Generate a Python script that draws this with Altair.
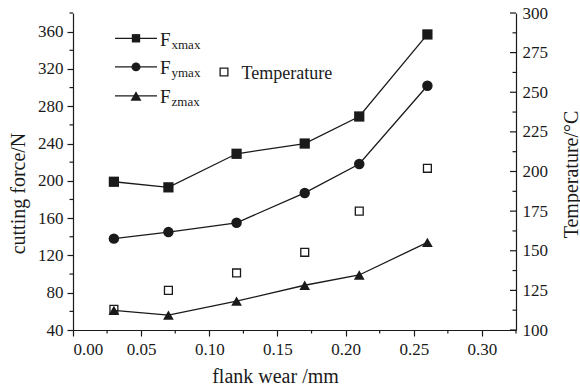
import altair as alt
import pandas as pd

# ---- data ----
wear = [0.03, 0.07, 0.12, 0.17, 0.21, 0.26]
fx = [199, 193, 229, 240, 269, 357]
fy = [138, 145, 155, 187, 218, 302]
fz = [61, 56, 71, 88, 99, 134]
temp = [113, 125, 136, 149, 175, 202]

series_names = ["Fx", "Fy", "Fz"]
series_shapes = ["square", "circle", "triangle-up"]
series_sizes = [105, 115, 165]
series_subs = ["xmax", "ymax", "zmax"]

force_ticks = [40, 80, 120, 160, 200, 240, 280, 320, 360]
force_minor = [60, 100, 140, 180, 220, 260, 300, 340, 380]
x_ticks = [0.0, 0.05, 0.10, 0.15, 0.20, 0.25, 0.30]
x_minor = [0.025, 0.075, 0.125, 0.175, 0.225, 0.275, 0.325]
temp_major = [100, 125, 150, 175, 200, 225, 250, 275, 300]
temp_minor = [112.5, 137.5, 162.5, 187.5, 212.5, 237.5, 262.5, 287.5]

W, H = 443, 317
FONT = "Liberation Serif"
INK = "#1a1a1a"

rows = []
for name, vals in zip(series_names, [fx, fy, fz]):
    for w, v in zip(wear, vals):
        rows.append({"wear": w, "force": v, "series": name})
forces = pd.DataFrame(rows)
temps = pd.DataFrame({"wear": wear, "temp": temp})

xscale = alt.Scale(domain=[0, 0.325], nice=False, zero=False)
yscale = alt.Scale(domain=[40, 380], nice=False, zero=False)
tscale = alt.Scale(domain=[100, 300], nice=False, zero=False)

x_axis = alt.Axis(values=x_ticks, format=".2f", title="flank wear /mm",
                  tickSize=6, labelPadding=5, grid=False, labelOverlap=False,
                  titleX=202, titleY=46, titleBaseline="middle", titleAlign="center")
y_axis = alt.Axis(values=force_ticks, title="cutting force/N", tickSize=6,
                  labelPadding=4, grid=False, titleAngle=-90, labelOverlap=False,
                  titleX=-55, titleY=180, titleBaseline="middle", titleAlign="center")
t_axis = alt.Axis(values=temp_major, title="Temperature/°C", ticks=False, labelPadding=6,
                  grid=False, orient="right", titleAngle=-90, labelOverlap=False,
                  titleX=55, titleY=161, titleBaseline="middle", titleAlign="center")

base = alt.Chart(forces)
lines = base.mark_line(color=INK, strokeWidth=1.3).encode(
    x=alt.X("wear:Q", scale=xscale, axis=x_axis),
    y=alt.Y("force:Q", scale=yscale, axis=y_axis),
    detail="series:N",
)
pts = base.mark_point(filled=True, color=INK, opacity=1).encode(
    x=alt.X("wear:Q", scale=xscale, axis=x_axis),
    y=alt.Y("force:Q", scale=yscale, axis=y_axis),
    shape=alt.Shape("series:N", scale=alt.Scale(domain=series_names, range=series_shapes), legend=None),
    size=alt.Size("series:N", scale=alt.Scale(domain=series_names, range=series_sizes), legend=None),
)

# minor ticks left / bottom
lminor = alt.Chart(pd.DataFrame({"v": force_minor})).mark_rule(color=INK, strokeWidth=1.2).encode(
    y=alt.Y("v:Q", scale=yscale, axis=y_axis), x=alt.value(-3.5), x2=alt.value(0))
bminor = alt.Chart(pd.DataFrame({"v": x_minor})).mark_rule(color=INK, strokeWidth=1.2).encode(
    x=alt.X("v:Q", scale=xscale, axis=x_axis), y=alt.value(H), y2=alt.value(H + 3.5))

# legend
leg_layers = []
row_y = [25.3, 53.9, 82.9]
leg_sizes = [70, 80, 120]
one = alt.Data(values=[{"a": 1}])
for ry, shp, sz, sub in zip(row_y, series_shapes, leg_sizes, series_subs):
    leg_layers.append(alt.Chart(one).mark_rule(color=INK, strokeWidth=1.3).encode(
        x=alt.value(42), x2=alt.value(84), y=alt.value(ry)))
    leg_layers.append(alt.Chart(one).mark_point(shape=shp, filled=True, color=INK, opacity=1, size=sz).encode(
        x=alt.value(63), y=alt.value(ry)))
    leg_layers.append(alt.Chart(one).mark_text(text="F", font=FONT, fontSize=19, color=INK,
                                               align="left", baseline="alphabetic").encode(
        x=alt.value(87), y=alt.value(ry + 7.4)))
    leg_layers.append(alt.Chart(one).mark_text(text=sub, font=FONT, fontSize=13, color=INK,
                                               align="left", baseline="alphabetic").encode(
        x=alt.value(98.5), y=alt.value(ry + 10.2)))
leg_layers.append(alt.Chart(one).mark_point(shape="square", filled=False, color=INK, opacity=1,
                                            size=60, strokeWidth=1.3).encode(
    x=alt.value(151), y=alt.value(59)))
leg_layers.append(alt.Chart(one).mark_text(text="Temperature", font=FONT, fontSize=18, color=INK,
                                           align="left", baseline="alphabetic").encode(
    x=alt.value(168.5), y=alt.value(65.5)))

force_group = alt.layer(lines, pts, lminor, bminor, *leg_layers)

# temperature group (right axis)
tpts = alt.Chart(temps).mark_point(shape="square", filled=False, color=INK, opacity=1,
                                   size=62, strokeWidth=1.3).encode(
    x=alt.X("wear:Q", scale=xscale, axis=x_axis),
    y=alt.Y("temp:Q", scale=tscale, axis=t_axis),
)
tmaj = alt.Chart(pd.DataFrame({"v": temp_major})).mark_rule(color=INK, strokeWidth=1.2).encode(
    y=alt.Y("v:Q", scale=tscale, axis=t_axis), x=alt.value(W - 6), x2=alt.value(W))
tmin = alt.Chart(pd.DataFrame({"v": temp_minor})).mark_rule(color=INK, strokeWidth=1.2).encode(
    y=alt.Y("v:Q", scale=tscale, axis=t_axis), x=alt.value(W - 3.5), x2=alt.value(W))
temp_group = alt.layer(tpts, tmaj, tmin)

chart = alt.layer(force_group, temp_group).resolve_scale(y="independent").properties(
    width=W, height=H,
    autosize=alt.AutoSizeParams(type="none"),
    padding={"left": 73, "top": 13, "right": 64, "bottom": 61},
    background="white",
).configure_view(stroke=None).configure_axis(
    labelFont=FONT, labelFontSize=17, labelColor=INK,
    titleFont=FONT, titleFontSize=20, titleColor=INK, titleFontWeight="normal",
    domainColor=INK, domainWidth=1.2, tickColor=INK, tickWidth=1.2,
)

chart.save("out.html", embed_options={"renderer": "svg", "actions": False})
